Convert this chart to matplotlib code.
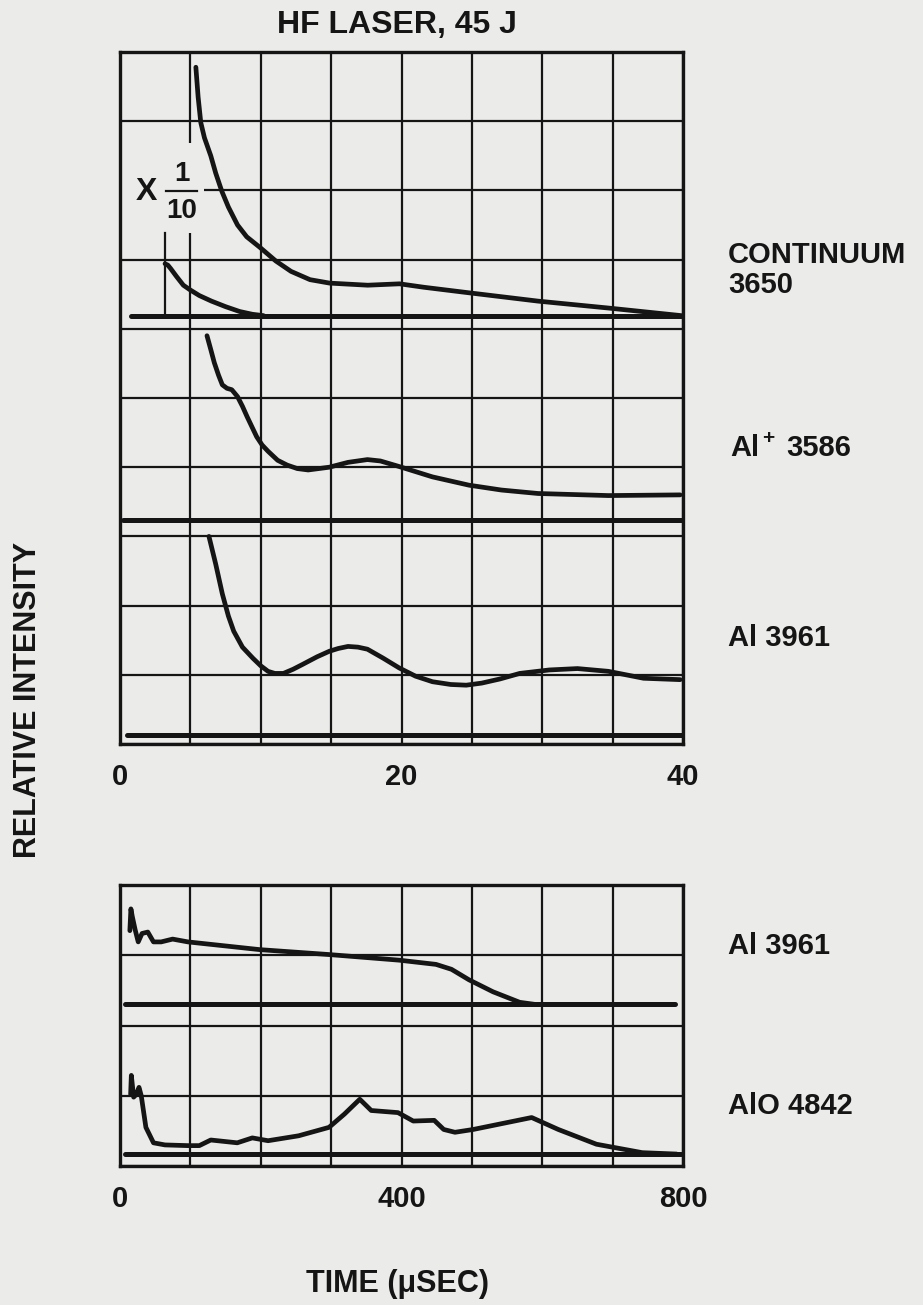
import numpy as np
from matplotlib import pyplot as plt
from matplotlib.patches import Rectangle

plt.rcParams['font.family'] = ['Liberation Sans', 'DejaVu Sans']
plt.rcParams['font.weight'] = 'bold'

BG = '#ebebe9'
INK = '#151515'

# ---- top panel: time in usec, intensity in grid divisions (0 = bottom) ----
cont_t = [5.39, 5.55, 5.74, 6.0, 6.45, 6.8, 7.23, 7.7, 8.35, 9.0, 9.98, 11.07,
          12.15, 13.5, 14.9, 17.6, 19.86, 21.6, 24.8, 29.7, 34.7, 39.9]
cont_y = [9.78, 9.35, 8.98, 8.76, 8.5, 8.25, 7.99, 7.76, 7.5, 7.33, 7.17, 6.98,
          6.83, 6.71, 6.66, 6.63, 6.65, 6.60, 6.52, 6.40, 6.30, 6.19]
# same trace x 1/10
cont10_t = [3.2, 3.4, 3.6, 4.0, 4.5, 5.0, 5.64, 6.5, 7.5, 8.5, 9.4, 10.2]
cont10_y = [6.94, 6.92, 6.87, 6.76, 6.63, 6.56, 6.48, 6.40, 6.32, 6.25, 6.21, 6.19]
cont10_marker_t = 3.2
cont_base = 6.19

alp_t = [6.18, 6.45, 6.7, 7.0, 7.27, 7.6, 7.94, 8.35, 8.7, 9.03, 9.71, 10.1, 10.52,
         11.2, 11.88, 12.6, 13.37, 14.87, 16.2, 17.58, 18.5, 19.83, 22.2, 24.8,
         27.1, 29.7, 34.7, 39.8]
alp_y = [5.90, 5.70, 5.51, 5.33, 5.19, 5.14, 5.12, 5.02, 4.88, 4.73, 4.44, 4.32, 4.23,
         4.10, 4.03, 3.98, 3.96, 4.00, 4.07, 4.11, 4.09, 4.01, 3.86, 3.74,
         3.67, 3.62, 3.59, 3.60]
alp_base = 3.23

al_t = [6.32, 6.8, 7.27, 7.7, 8.08, 8.7, 9.44, 10.0, 10.52, 11.0, 11.61, 12.3, 12.97,
        14.0, 14.87, 15.5, 16.2, 16.9, 17.58, 18.7, 19.83, 21.0, 22.2, 23.5, 24.6,
        25.7, 27.0, 28.4, 30.5, 32.5, 34.7, 37.2, 39.8]
al_y = [3.0, 2.6, 2.17, 1.85, 1.63, 1.40, 1.24, 1.13, 1.05, 1.02, 1.02, 1.08, 1.15,
        1.26, 1.34, 1.38, 1.41, 1.40, 1.37, 1.24, 1.10, 0.98, 0.90, 0.86, 0.85,
        0.88, 0.94, 1.02, 1.07, 1.09, 1.05, 0.95, 0.93]
al_base = 0.13

# ---- bottom panel: 0-800 usec ----
alb_t = [14, 15.5, 17.5, 21.6, 25.9, 31.3, 39.5, 47.6, 58.5, 74.8, 96.5, 198.6,
         297, 396.6, 449, 471, 496, 530, 568, 590]
alb_y = [3.35, 3.66, 3.55, 3.36, 3.19, 3.31, 3.33, 3.19, 3.19, 3.23, 3.19, 3.08,
         3.01, 2.93, 2.87, 2.80, 2.65, 2.48, 2.33, 2.30]
alb_base = 2.30

alo_t = [15.1, 16.1, 19.4, 23.2, 27.0, 30.2, 36.8, 47.6, 63.9, 96.5, 112.7, 129,
         166.6, 188, 210.4, 253.8, 297, 319, 340.7, 357, 395, 416.7, 446.5, 460,
         476, 501.9, 585, 622.8, 677, 742, 791]
alo_y = [1.02, 1.29, 0.98, 1.02, 1.12, 1.00, 0.55, 0.33, 0.30, 0.29, 0.29, 0.37,
         0.33, 0.40, 0.36, 0.43, 0.55, 0.74, 0.95, 0.79, 0.76, 0.64, 0.65, 0.52,
         0.48, 0.52, 0.69, 0.52, 0.31, 0.19, 0.17]
alo_base = 0.17

W, H = 923, 1305


def px(x, y):
    return x / W, 1 - y / H


def grid_axes(rect, xmax, nrows, labels):
    ax = fig.add_axes(rect)
    ax.set_facecolor(BG)
    ax.set_xlim(0, xmax)
    ax.set_ylim(0, nrows)
    ax.set_xticks(np.linspace(0, xmax, 9))
    ax.set_xticklabels(labels)
    ax.set_yticks(range(nrows + 1))
    ax.set_yticklabels([])
    ax.tick_params(length=0, labelsize=21, pad=14, colors=INK)
    ax.set_axisbelow(True)
    ax.grid(True, color=INK, lw=1.6)
    for s in ax.spines.values():
        s.set_linewidth(2.4)
        s.set_color(INK)
    return ax


fig = plt.figure(figsize=(W / 100, H / 100), dpi=100)
fig.patch.set_facecolor(BG)

trace = dict(color=INK, lw=3.4, solid_joinstyle='round', solid_capstyle='round', zorder=3)
base = dict(color=INK, lw=3.6, solid_capstyle='round', zorder=3)

top = grid_axes([120 / W, 1 - 744 / H, 563 / W, 692 / H], 40, 10,
                ['0', '', '', '', '20', '', '', '', '40'])
top.add_patch(Rectangle((0.15, 7.38), 5.85, 1.3, facecolor=BG, edgecolor='none', zorder=1))
top.plot(cont_t, cont_y, **trace)
top.plot(cont10_t, cont10_y, **trace)
top.plot([cont10_marker_t, cont10_marker_t], [cont_base, 7.38], color=INK, lw=1.6, zorder=2)
top.plot([0.8, 40], [cont_base, cont_base], **base)
top.plot(alp_t, alp_y, **trace)
top.plot([0.2, 40], [alp_base, alp_base], **base)
top.plot(al_t, al_y, **trace)
top.plot([0.5, 40], [al_base, al_base], **base)

top.text(1.85, 7.98, 'X', fontsize=23, ha='center', va='center', color=INK, zorder=4)
top.text(4.4, 8.24, '1', fontsize=20, ha='center', va='center', color=INK, zorder=4)
top.plot([3.3, 5.5], [7.99, 7.99], color=INK, lw=1.6, zorder=4)
top.text(4.4, 7.7, '10', fontsize=20, ha='center', va='center', color=INK, zorder=4)

bot = grid_axes([120 / W, 1 - 1166 / H, 563 / W, 281 / H], 800, 4,
                ['0', '', '', '', '400', '', '', '', '800'])
bot.plot(alb_t, alb_y, **trace)
bot.plot([7, 789], [alb_base, alb_base], **base)
bot.plot(alo_t, alo_y, **trace)
bot.plot([7, 797], [alo_base, alo_base], **base)

fig.text(*px(397, 25), 'HF LASER, 45 J', fontsize=23, ha='center', va='center', color=INK)
fig.text(*px(28, 700), 'RELATIVE INTENSITY', fontsize=22, rotation=90,
         ha='center', va='center', color=INK)
fig.text(*px(398, 1284), 'TIME (\u03bcSEC)', fontsize=22, ha='center', va='center', color=INK)

lab = dict(fontsize=21, ha='left', va='center', color=INK, linespacing=1.05)
fig.text(*px(728, 270), 'CONTINUUM\n3650', **lab)
fig.text(*px(730, 448), 'Al', **lab)
fig.text(*px(762, 438), '+', fontsize=15, ha='left', va='center', color=INK)
fig.text(*px(786, 448), '3586', **lab)
fig.text(*px(728, 638), 'Al 3961', **lab)
fig.text(*px(728, 946), 'Al 3961', **lab)
fig.text(*px(728, 1106), 'AlO 4842', **lab)

fig.savefig('out.png', dpi=100, facecolor=BG)
